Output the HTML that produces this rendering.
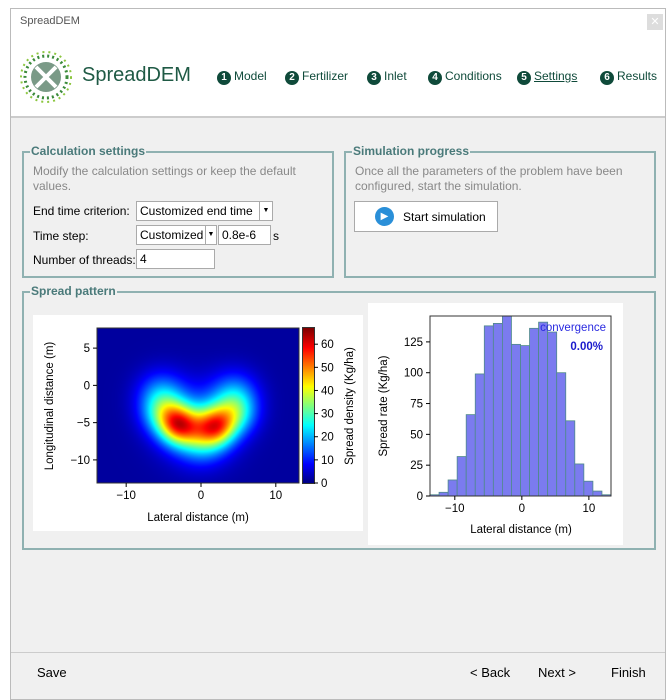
<!DOCTYPE html>
<html><head><meta charset="utf-8"><style>
body{margin:0;width:672px;height:700px;background:#fff;font-family:"Liberation Sans",sans-serif;position:relative;overflow:hidden}
.a{position:absolute}
.t{font-size:12px;color:#000;white-space:nowrap}
.box{position:absolute;border:2px solid #8fb1b1;box-sizing:border-box}
.lg{position:absolute;background:#f0f0f0;color:#4a7a7a;font-weight:bold;font-size:12px;padding:0 1px;top:-9px;left:6px}
.inp{position:absolute;background:#fff;border:1px solid #aaa;box-sizing:border-box;font-size:12px;padding:2px 3px}
.nc{display:inline-block;width:14px;height:14px;border-radius:50%;background:#0f4a3a;color:#fff;font-size:10px;font-weight:bold;text-align:center;line-height:14px;margin-right:3px}
.nav{position:absolute;top:69px;font-size:12px;color:#0f4a3a;white-space:nowrap}
</style></head><body>
<div class="a" style="left:10px;top:8px;width:656px;height:692px;border:1px solid #bbb;background:#f0f0f0;box-sizing:border-box"></div>
<div class="a" style="left:11px;top:9px;width:654px;height:26px;background:#fff"></div>
<div class="a t" style="left:20px;top:15px;color:#555;font-size:11px">SpreadDEM</div>
<div class="a" style="left:647px;top:14px;width:16px;height:16px;background:#ddd;color:#fff;font-size:11px;text-align:center;line-height:16px">✕</div>
<div class="a" style="left:11px;top:35px;width:654px;height:81px;background:#fff;border-bottom:2px solid #ccc"></div>
<svg class="a" style="left:20px;top:50px" width="52" height="54">
<circle cx="26" cy="27" r="15" fill="#7a9a87"/><path d="M16 17L36 37M36 17L16 37" stroke="#fff" stroke-width="4"/>
<circle cx="26" cy="27" r="21" fill="none" stroke="#3a8a3a" stroke-width="3" stroke-dasharray="2 3"/>
<circle cx="26" cy="27" r="25" fill="none" stroke="#8cc63f" stroke-width="2" stroke-dasharray="2 4"/></svg>
<div class="a" style="left:82px;top:64px;font-size:20px;color:#1f5a45">SpreadDEM</div>
<div class="nav" style="left:217px"><span class="nc">1</span>Model</div>
<div class="nav" style="left:285px"><span class="nc">2</span>Fertilizer</div>
<div class="nav" style="left:367px"><span class="nc">3</span>Inlet</div>
<div class="nav" style="left:428px"><span class="nc">4</span>Conditions</div>
<div class="nav" style="left:517px"><span class="nc">5</span><u>Settings</u></div>
<div class="nav" style="left:600px"><span class="nc">6</span>Results</div>

<div class="box" style="left:22px;top:151px;width:312px;height:127px"><div class="lg">Calculation settings</div></div>
<div class="a t" style="left:33px;top:164px;color:#888;line-height:15px">Modify the calculation settings or keep the default<br>values.</div>
<div class="a t" style="left:33px;top:204px">End time criterion:</div>
<div class="inp" style="left:136px;top:201px;width:137px;height:20px">Customized end time<span style="position:absolute;right:0;top:0;width:12px;height:18px;border-left:1px solid #aaa;font-size:7px;text-align:center;line-height:18px">▼</span></div>
<div class="a t" style="left:33px;top:229px">Time step:</div>
<div class="inp" style="left:136px;top:225px;width:81px;height:20px">Customized<span style="position:absolute;right:0;top:0;width:10px;height:18px;border-left:1px solid #aaa;font-size:7px;text-align:center;line-height:18px">▼</span></div>
<div class="inp" style="left:218px;top:225px;width:53px;height:20px">0.8e-6</div>
<div class="a t" style="left:273px;top:229px">s</div>
<div class="a t" style="left:33px;top:253px">Number of threads:</div>
<div class="inp" style="left:136px;top:249px;width:79px;height:20px">4</div>

<div class="box" style="left:344px;top:151px;width:312px;height:127px"><div class="lg">Simulation progress</div></div>
<div class="a t" style="left:355px;top:164px;color:#888;line-height:15px">Once all the parameters of the problem have been<br>configured, start the simulation.</div>
<div class="a" style="left:354px;top:201px;width:144px;height:31px;border:1px solid #aaa;background:#fff;box-sizing:border-box">
<div class="a" style="left:20px;top:5px;width:19px;height:19px;border-radius:50%;background:#2a8fd8;color:#fff;font-size:10px;text-align:center;line-height:19px">▶</div>
<div class="a t" style="left:48px;top:8px">Start simulation</div></div>

<div class="box" style="left:22px;top:291px;width:634px;height:259px"><div class="lg">Spread pattern</div></div>
<div class="a" style="left:33px;top:315px;width:330px;height:216px;background:#fff"></div>
<div class="a" style="left:368px;top:303px;width:255px;height:242px;background:#fff"></div>
<canvas id="hm" class="a" style="left:97px;top:328px" width="202" height="155"></canvas>
<canvas id="cb" class="a" style="left:303px;top:328px;outline:1px solid #333" width="11" height="155"></canvas>
<svg id="sv" class="a" style="left:0;top:0" width="672" height="700" font-family="Liberation Sans,sans-serif" font-size="11.5"></svg>

<div class="a" style="left:11px;top:652px;width:654px;height:1px;background:#ccc"></div>
<div class="a t" style="left:37px;top:665px;font-size:13px">Save</div>
<div class="a t" style="left:470px;top:665px;font-size:13px">&lt; Back</div>
<div class="a t" style="left:538px;top:665px;font-size:13px">Next &gt;</div>
<div class="a t" style="left:611px;top:665px;font-size:13px">Finish</div>
<script>
// heatmap blobs (x, y, amplitude, sigma)
const blobX=[-3,2,-5,4.5,0,-5.5,4.5,-0.5];
const blobY=[-5.3,-5.4,-3.6,-3.6,-6.8,-1,-1,-5];
const blobA=[36,32,20,20,18,12,12,12];
const blobS=[1.8,1.8,2.0,2.0,2.2,2.2,2.2,3.6];
const hmX=[-13.9,13.1], hmY=[7.7,-13.1], cMax=67;
const cbTicks=[0,10,20,30,40,50,60];
const hmXTicks=[-10,0,10], hmYTicks=[5,0,-5,-10];
// histogram
const histVals=[1,3,13,32,66,99,138,140,146,123,122,136,141,133,100,61,26,12,4,1];
const histX=[-13.7,13.3], histYMax=146;
const histXTicks=[-10,0,10], histYTicks=[0,25,50,75,100,125];

function jet(v){v=Math.max(0,Math.min(1,v));const f=x=>Math.max(0,Math.min(1,1.5-Math.abs(4*v-x)));return[f(3)*255,f(2)*255,f(1)*255];}
const hc=document.getElementById('hm').getContext('2d');const W=202,H=155;const img=hc.createImageData(W,H);
for(let j=0;j<H;j++)for(let i=0;i<W;i++){const x=hmX[0]+(hmX[1]-hmX[0])*i/W,y=hmY[0]+(hmY[1]-hmY[0])*j/H;let d=2;
for(let k=0;k<blobX.length;k++)d+=blobA[k]*Math.exp(-((x-blobX[k])**2+(y-blobY[k])**2)/(2*blobS[k]**2));
const c=jet(d/cMax);const p=(j*W+i)*4;img.data[p]=c[0];img.data[p+1]=c[1];img.data[p+2]=c[2];img.data[p+3]=255;}
hc.putImageData(img,0,0);
const cc=document.getElementById('cb').getContext('2d');for(let j=0;j<155;j++){const c=jet(1-j/155);cc.fillStyle=`rgb(${c[0]|0},${c[1]|0},${c[2]|0})`;cc.fillRect(0,j,11,1);}
const sv=document.getElementById('sv');const NS='http://www.w3.org/2000/svg';
function el(t,a,txt){const e=document.createElementNS(NS,t);for(const k in a)e.setAttribute(k,a[k]);if(txt!=null)e.textContent=txt;sv.appendChild(e);return e;}
const hx=v=>97+(v-hmX[0])/(hmX[1]-hmX[0])*202, hy=v=>328+(v-hmY[0])/(hmY[1]-hmY[0])*155, cy=v=>483-v/cMax*155;
let r=el('rect',{x:97,y:328,width:202,height:155,fill:'none',stroke:'#333'});


hmXTicks.forEach(v=>{el('line',{x1:hx(v),x2:hx(v),y1:483,y2:487,stroke:'#000'});let t=el('text',{x:hx(v),y:499,'text-anchor':'middle'},v<0?'−'+(-v):v);

});
hmYTicks.forEach(v=>{el('line',{x1:93,x2:97,y1:hy(v),y2:hy(v),stroke:'#000'});let t=el('text',{x:90,y:hy(v)+4,'text-anchor':'end'},v<0?'−'+(-v):v);

});
cbTicks.forEach(v=>{el('line',{x1:314,x2:318,y1:cy(v),y2:cy(v),stroke:'#000'});let t=el('text',{x:321,y:cy(v)+4},v);

});
let t1=el('text',{x:198,y:521,'text-anchor':'middle'},'Lateral distance (m)');


let t2=el('text',{x:0,y:0,'text-anchor':'middle',transform:'translate(53,406) rotate(-90)'},'Longitudinal distance (m)');


let t3=el('text',{x:0,y:0,'text-anchor':'middle',transform:'translate(353,406) rotate(-90)'},'Spread density (Kg/ha)');


// histogram
const gx=v=>430+(v-histX[0])/(histX[1]-histX[0])*181, gy=v=>496-v/histYMax*180;
const bw=(histX[1]-histX[0])/histVals.length;
histVals.forEach((v,i)=>{let b=el('rect',{x:gx(histX[0]+i*bw),y:gy(v),width:gx(histX[0]+bw)-430,height:496-gy(v),fill:'#7b7bef',stroke:'#4f8a8a','stroke-width':0.8});

});
let f=el('rect',{x:430,y:316,width:181,height:180,fill:'none',stroke:'#333'});


histXTicks.forEach(v=>{el('line',{x1:gx(v),x2:gx(v),y1:496,y2:500,stroke:'#000'});let t=el('text',{x:gx(v),y:512,'text-anchor':'middle'},v<0?'−'+(-v):v);

});
histYTicks.forEach(v=>{el('line',{x1:426,x2:430,y1:gy(v),y2:gy(v),stroke:'#000'});let t=el('text',{x:423,y:gy(v)+4,'text-anchor':'end'},v);

});
let t4=el('text',{x:521,y:533,'text-anchor':'middle'},'Lateral distance (m)');


let t5=el('text',{x:0,y:0,'text-anchor':'middle',transform:'translate(387,406) rotate(-90)'},'Spread rate (Kg/ha)');


let t6=el('text',{x:606,y:331,'text-anchor':'end',fill:'#2a2ae0'},'convergence');


let t7=el('text',{x:603,y:350,'text-anchor':'end',fill:'#1a1acc','font-weight':'bold'},'0.00%');


</script>
</body></html>
